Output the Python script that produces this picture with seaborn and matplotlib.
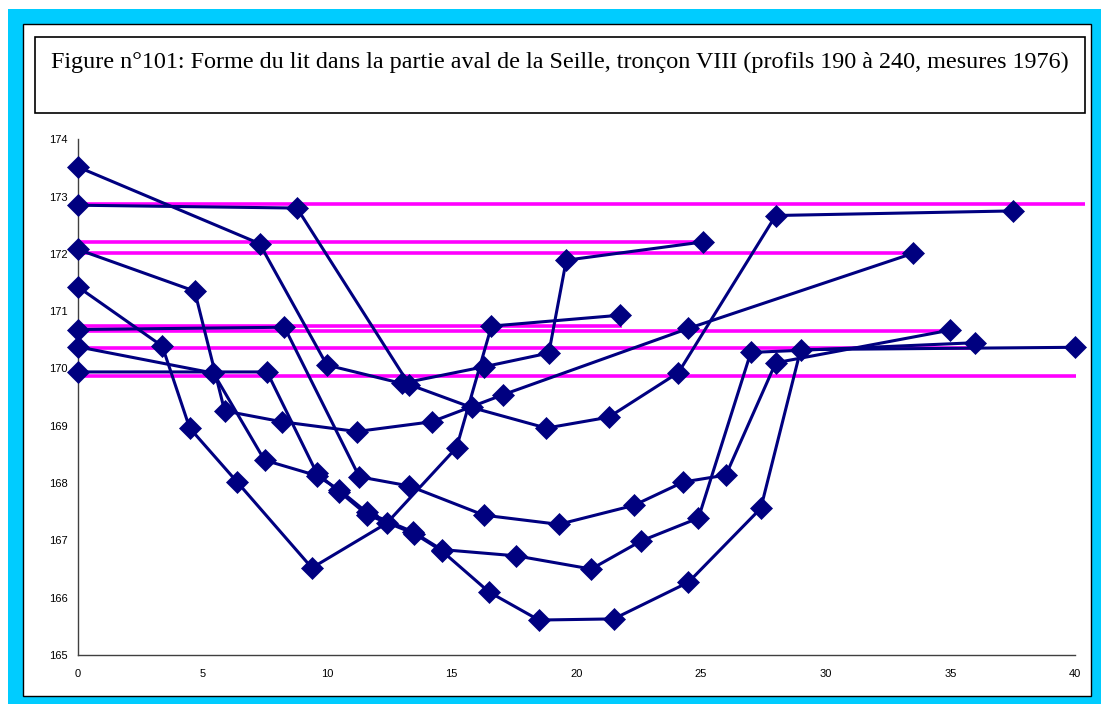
import numpy as np
import pandas as pd
import matplotlib
matplotlib.use("Agg")
import matplotlib.pyplot as plt
import seaborn as sns
from matplotlib.patches import Rectangle

# ---------------- data ----------------
title = ("Figure n°101: Forme du lit dans la partie aval de la Seille, "
         "tronçon VIII (profils 190 à 240, mesures 1976)")

xA = [0, 7.3, 10.0, 13.0, 16.3, 18.9, 19.6, 25.1]
yA = [173.52, 172.18, 170.06, 169.74, 170.03, 170.27, 171.89, 172.21]

xB = [0, 8.8, 13.3, 15.8, 18.8, 21.3, 24.1, 28.0, 37.5]
yB = [172.85, 172.80, 169.72, 169.32, 168.96, 169.15, 169.93, 172.67, 172.75]

xC = [0, 4.7, 5.9, 8.2, 11.2, 14.2, 17.05, 24.5, 33.5]
yC = [172.08, 171.35, 169.26, 169.07, 168.90, 169.07, 169.54, 170.70, 172.01]

xD = [0, 3.4, 4.5, 6.4, 9.4, 12.4, 15.2, 16.6, 21.75]
yD = [171.43, 170.39, 168.96, 168.02, 166.52, 167.30, 168.62, 170.74, 170.93]

xE = [0, 8.3, 11.3, 13.3, 16.3, 19.3, 22.3, 24.3, 26.0, 28.0, 35.0]
yE = [170.68, 170.72, 168.11, 167.95, 167.44, 167.28, 167.61, 168.02, 168.14, 170.10, 170.67]

xF = [0, 5.45, 7.5, 9.6, 10.5, 11.6, 13.45, 14.6, 17.6, 20.6, 22.6, 24.9, 27.0, 36.0]
yF = [170.38, 169.92, 168.40, 168.13, 167.88, 167.49, 167.15, 166.84, 166.73, 166.50, 166.99, 167.39, 170.28, 170.45]

xG = [0, 7.6, 9.6, 10.5, 11.6, 13.5, 14.6, 16.5, 18.5, 21.5, 24.5, 27.4, 29.0, 40.0]
yG = [169.94, 169.94, 168.17, 167.85, 167.45, 167.12, 166.82, 166.10, 165.61, 165.63, 166.27, 167.56, 170.33, 170.37]

profiles = ["A", "B", "C", "D", "E", "F", "G"]

# water levels (magenta)
levels = [172.87, 172.21, 172.01, 170.74, 170.66, 170.36, 169.87]
level_ends = [40.4, 24.83, 33.18, 21.82, 34.71, 35.95, 40.05]

xticks = [0, 5, 10, 15, 20, 25, 30, 35, 40]
yticks = [165, 166, 167, 168, 169, 170, 171, 172, 173, 174]

# ---------------- build table ----------------
xs = [xA, xB, xC, xD, xE, xF, xG]
ys = [yA, yB, yC, yD, yE, yF, yG]
rows = []
for p, xx, yy in zip(profiles, xs, ys):
    for i, (a, b) in enumerate(zip(xx, yy)):
        rows.append({"profil": p, "ordre": i, "x": a, "y": b})
df = pd.DataFrame(rows)

# ---------------- figure ----------------
sns.set_style("white")
plt.rcParams["font.family"] = ["Liberation Sans", "DejaVu Sans"]

W, H = 1101, 704
fig = plt.figure(figsize=(W / 100, H / 100), dpi=100)
fig.patch.set_facecolor("white")


def fx(px):
    return px / W


def fy(py):
    return 1 - py / H


fig.patches.append(Rectangle((fx(8), 0), 1 - fx(8), fy(9), transform=fig.transFigure,
                             facecolor="#00CCFF", edgecolor="none", zorder=-3))
fig.patches.append(Rectangle((fx(22.5), fy(696)), fx(1091) - fx(22.5), fy(23.5) - fy(696),
                             transform=fig.transFigure, facecolor="white",
                             edgecolor="black", lw=1, zorder=-2))
fig.patches.append(Rectangle((fx(35), fy(113)), fx(1085) - fx(35), fy(37) - fy(113),
                             transform=fig.transFigure, facecolor="white",
                             edgecolor="black", lw=1.2, zorder=-1))
fig.text(fx(560), fy(62), title, ha="center", va="center",
         family=["Liberation Serif", "DejaVu Serif"], fontsize=17.4, color="black")

ax = fig.add_axes([fx(77.5), fy(655), fx(1075) - fx(77.5), fy(139.3) - fy(655)])
ax.set_facecolor("none")
ax.set_zorder(5)

ax.hlines(levels, 0, level_ends, colors="#FF00FF", lw=2.6, zorder=2, clip_on=False)

sns.lineplot(data=df, x="x", y="y", units="profil", estimator=None, sort=False,
             color="#000080", lw=2.2, marker="D", markersize=11,
             markeredgecolor="#000080", markeredgewidth=0.5, ax=ax, zorder=3,
             clip_on=False, legend=False)

ax.set_xlim(0, 40)
ax.set_ylim(165, 174)
ax.set_xticks(xticks)
ax.set_yticks(yticks)
ax.set_xticklabels([str(t) for t in xticks])
ax.set_yticklabels([str(t) for t in yticks])
ax.set_xlabel("")
ax.set_ylabel("")
for s in ["top", "right"]:
    ax.spines[s].set_visible(False)
for s in ["left", "bottom"]:
    ax.spines[s].set_color("#404040")
    ax.spines[s].set_linewidth(1)
ax.tick_params(axis="both", direction="out", length=4, width=1, color="#404040",
               labelsize=8, labelcolor="black", pad=3)
ax.tick_params(axis="x", pad=6)
ax.grid(False)

fig.savefig("out.png", dpi=100)
